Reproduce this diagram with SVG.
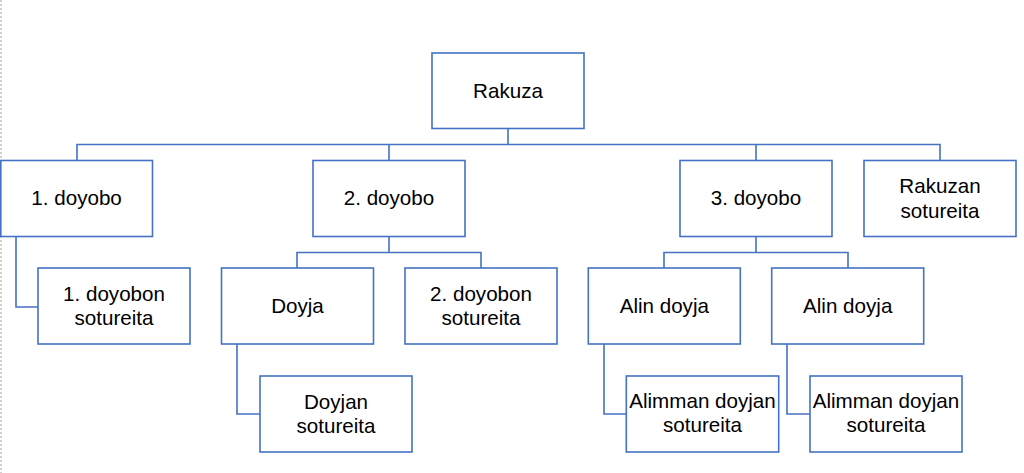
<svg xmlns="http://www.w3.org/2000/svg" width="1024" height="473" viewBox="0 0 1024 473">
<style>
.box{fill:#ffffff;stroke:#4472C4;stroke-width:1.6}
.conn{fill:none;stroke:#4472C4;stroke-width:1.6}
.lbl{font-family:"Liberation Sans",Arial,sans-serif;font-size:20.6px;fill:#000000;text-anchor:middle}
</style>
<rect x="0" y="0" width="1024" height="473" fill="#ffffff"/>
<line x1="1" y1="0" x2="1" y2="473" stroke="#a0a0a0" stroke-width="1" stroke-dasharray="2,2"/>
<g id="connectors">
<path class="conn" d="M508 128V144.5M77 160V144.5H940V160M389 144.5V160M756 144.5V160"/>
<path class="conn" d="M16 236.5V307H38"/>
<path class="conn" d="M389 236.5V252.5M297 268V252.5H481V268"/>
<path class="conn" d="M237 344V414H260"/>
<path class="conn" d="M756 236.5V252.5M664 268V252.5H848V268"/>
<path class="conn" d="M604 344V414H626"/>
<path class="conn" d="M787 344V414H810"/>
</g>
<g id="rakuza"><rect class="box" x="432" y="53" width="152" height="75.5"/><text class="lbl" x="508" y="97.5">Rakuza</text></g>
<g id="doyobo1"><rect class="box" x="0.8" y="160.5" width="151.7" height="76"/><text class="lbl" x="76.6" y="205">1. doyobo</text></g>
<g id="doyobo2"><rect class="box" x="313" y="160.5" width="152" height="76"/><text class="lbl" x="389" y="205">2. doyobo</text></g>
<g id="doyobo3"><rect class="box" x="680" y="160.5" width="152" height="76"/><text class="lbl" x="756" y="205">3. doyobo</text></g>
<g id="rakuzan-sotureita"><rect class="box" x="864" y="160.5" width="152" height="76"/><text class="lbl" x="940" y="193">Rakuzan</text><text class="lbl" x="940" y="217.5">sotureita</text></g>
<g id="doyobon1-sotureita"><rect class="box" x="38" y="268" width="152" height="76"/><text class="lbl" x="114" y="300.8">1. doyobon</text><text class="lbl" x="114" y="325.3">sotureita</text></g>
<g id="doyja"><rect class="box" x="221.5" y="268" width="152" height="76"/><text class="lbl" x="297.5" y="313">Doyja</text></g>
<g id="doyobon2-sotureita"><rect class="box" x="405" y="268" width="152" height="76"/><text class="lbl" x="481" y="300.8">2. doyobon</text><text class="lbl" x="481" y="325.3">sotureita</text></g>
<g id="doyjan-sotureita"><rect class="box" x="260" y="376" width="152" height="76"/><text class="lbl" x="336" y="408.5">Doyjan</text><text class="lbl" x="336" y="433">sotureita</text></g>
<g id="alin-doyja-1"><rect class="box" x="588.3" y="268" width="152" height="76"/><text class="lbl" x="664.3" y="313">Alin doyja</text></g>
<g id="alin-doyja-2"><rect class="box" x="771.7" y="268" width="152" height="76"/><text class="lbl" x="847.7" y="313">Alin doyja</text></g>
<g id="alimman-1"><rect class="box" x="626.3" y="376" width="152.4" height="76"/><text class="lbl" x="702.5" y="408">Alimman doyjan</text><text class="lbl" x="702.5" y="432">sotureita</text></g>
<g id="alimman-2"><rect class="box" x="810" y="376" width="152" height="76"/><text class="lbl" x="886" y="408">Alimman doyjan</text><text class="lbl" x="886" y="432">sotureita</text></g>
</svg>
